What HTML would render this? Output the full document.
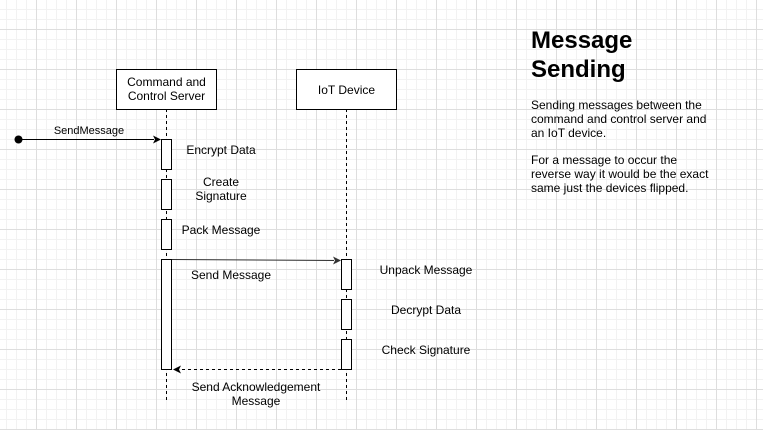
<!DOCTYPE html>
<html><head><meta charset="utf-8"><style>
html,body{margin:0;padding:0;background:#fff;}
svg{display:block;font-family:"Liberation Sans",Arial,sans-serif;}
</style></head><body>
<svg width="763" height="430" viewBox="0 0 763 430" xmlns="http://www.w3.org/2000/svg">
<defs>
<pattern id="minor" x="6" y="9" width="10" height="10" patternUnits="userSpaceOnUse">
<path d="M0.5 0V10M0 0.5H10" stroke="#f2f2f2" stroke-width="1" fill="none"/>
</pattern>
<pattern id="major" x="-4" y="-11" width="40" height="40" patternUnits="userSpaceOnUse">
<path d="M0.5 0V40M0 0.5H40" stroke="#dedede" stroke-width="1" fill="none"/>
</pattern>
</defs>
<rect width="763" height="430" fill="url(#minor)"/>
<rect width="763" height="430" fill="url(#major)"/>

<!-- lifelines -->
<line x1="166.5" y1="109" x2="166.5" y2="400" stroke="#000" stroke-dasharray="3,3"/>
<line x1="346.5" y1="109" x2="346.5" y2="400" stroke="#000" stroke-dasharray="3,3"/>

<!-- headers -->
<rect x="116.5" y="69.5" width="100" height="40" fill="#fff" stroke="#000"/>
<text x="166.5" y="86" font-size="12" text-anchor="middle">Command and</text>
<text x="166.5" y="100" font-size="12" text-anchor="middle">Control Server</text>
<rect x="296.5" y="69.5" width="100" height="40" fill="#fff" stroke="#000"/>
<text x="346.5" y="94" font-size="12" text-anchor="middle">IoT Device</text>

<!-- activations -->
<g fill="#fff" stroke="#000">
<rect x="161.5" y="139.5" width="10" height="30"/>
<rect x="161.5" y="179.5" width="10" height="30"/>
<rect x="161.5" y="219.5" width="10" height="30"/>
<rect x="161.5" y="259.5" width="10" height="110"/>
<rect x="341.5" y="259.5" width="10" height="30"/>
<rect x="341.5" y="299.5" width="10" height="30"/>
<rect x="341.5" y="339.5" width="10" height="30"/>
</g>

<!-- found message -->
<circle cx="18.5" cy="139.5" r="4" fill="#000"/>
<line x1="18" y1="139.5" x2="154" y2="139.5" stroke="#000"/>
<path d="M161 139.5 L153 135.5 L155 139.5 L153 143.5Z" fill="#000"/>
<text x="89" y="134" font-size="11" text-anchor="middle">SendMessage</text>

<!-- send message -->
<line x1="172" y1="259.5" x2="334" y2="260.5" stroke="#333"/>
<path d="M341 260.5 L333 256.5 L335 260.5 L333 264.5Z" fill="#333"/>
<text x="231" y="279" font-size="12" text-anchor="middle">Send Message</text>

<!-- return -->
<line x1="341" y1="369.5" x2="180" y2="369.5" stroke="#000" stroke-dasharray="3,3"/>
<path d="M173 369.5 L181 365.5 L179 369.5 L181 373.5Z" fill="#000"/>
<text x="256" y="391" font-size="12" text-anchor="middle">Send Acknowledgement</text>
<text x="256" y="405" font-size="12" text-anchor="middle">Message</text>

<!-- activity labels -->
<g font-size="12" text-anchor="middle">
<text x="221" y="154">Encrypt Data</text>
<text x="221" y="186">Create</text>
<text x="221" y="200">Signature</text>
<text x="221" y="234">Pack Message</text>
<text x="426" y="274">Unpack Message</text>
<text x="426" y="314">Decrypt Data</text>
<text x="426" y="354">Check Signature</text>
</g>

<!-- side text -->
<text x="531" y="48" font-size="24" font-weight="bold">Message</text>
<text x="531" y="77" font-size="24" font-weight="bold">Sending</text>
<g font-size="12">
<text x="531" y="109">Sending messages between the</text>
<text x="531" y="123">command and control server and</text>
<text x="531" y="137">an IoT device.</text>
<text x="531" y="164">For a message to occur the</text>
<text x="531" y="178">reverse way it would be the exact</text>
<text x="531" y="192">same just the devices flipped.</text>
</g>
</svg>
</body></html>
